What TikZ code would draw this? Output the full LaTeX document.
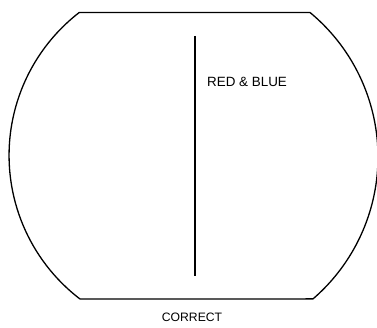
\documentclass[tikz,border=0pt]{standalone}
\usepackage{fontspec}
\setmainfont{Liberation Sans}
\usepackage{tikz}
\usetikzlibrary{positioning}

\begin{document}
\begin{tikzpicture}[x=1pt, y=1pt,
    screen/.style={line width=1.3pt, line join=round},
    trace/.style={line width=2.4pt},
    lbl/.style={inner sep=0pt}]
  \useasboundingbox (0,0) rectangle (377,327);
  % screen outline: flat top and bottom, curved sides
  \draw[screen] (79,314.5) -- (310,314.5)
    arc[start angle=50.4, end angle=-49.2, radius=187.5]
    -- (80,28)
    arc[start angle=232.6, end angle=127.8, radius=180.7] -- cycle;
  % vertical trace
  \coordinate (tracetop) at (195,291);
  \coordinate (tracebot) at (195,51);
  \draw[trace] (tracetop) -- (tracebot);
  % labels
  \node[lbl, anchor=base west, font=\fontsize{13.4}{15}\selectfont]
    (rb) at (207,240) {RED \& BLUE};
  \node[lbl, anchor=base, font=\fontsize{12.2}{14}\selectfont]
    (correct) at (192,6) {CORRECT};
\end{tikzpicture}
\end{document}
